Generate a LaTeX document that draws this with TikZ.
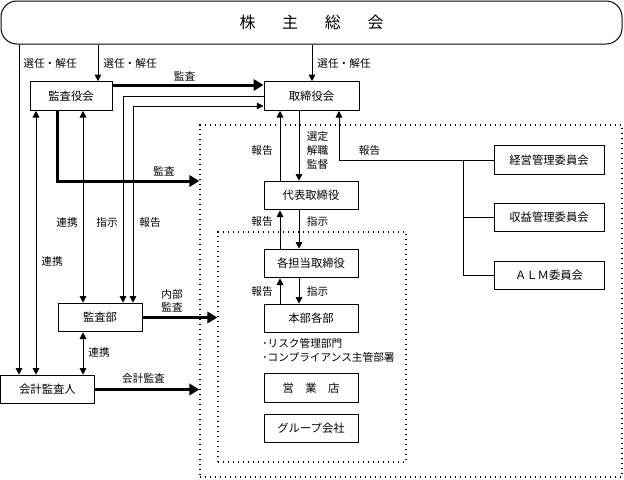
\documentclass[tikz,border=0pt]{standalone}
\usepackage{fontspec}
\setmainfont{Noto Sans CJK JP}
\usetikzlibrary{arrows.meta}

\tikzset{
  orgbox/.style={draw, line width=0.75pt, inner sep=0pt, minimum height=21.5pt,
    font=\fontsize{8.5}{10}\selectfont},
  lbl/.style={inner sep=0pt, font=\fontsize{8}{10}\selectfont},
  arr/.style={line width=0.75pt, -{Triangle[length=5pt,width=5pt]}},
  darr/.style={line width=0.75pt, {Triangle[length=5pt,width=5pt]}-{Triangle[length=5pt,width=5pt]}},
  bigarr/.style={line width=2.25pt, -{Triangle[length=7.5pt,width=8.5pt]}},
  dotbox/.style={draw, line width=1pt, dash pattern=on 1pt off 2.75pt, inner sep=0pt},
}

\begin{document}
\begin{tikzpicture}[x=0.75pt,y=0.75pt,yscale=-1]
\useasboundingbox (0,0) rectangle (624,479);

%Shape: Rounded Rect
\node [draw, line width=0.75pt, rounded corners=12pt, minimum width=465.75pt, minimum height=32.25pt, inner sep=0pt,
  font=\fontsize{12}{14}\selectfont] (soukai) at (311.5,22.5) {株\hspace{20pt}主\hspace{20pt}総\hspace{20pt}会};

%Shape: Dotted Rect
\node [dotbox, minimum width=316.5pt, minimum height=264pt] (outer) at (411,301) {};
\node [dotbox, minimum width=141pt, minimum height=172.5pt] (inner) at (312,347) {};

%Shape: Rectangle
\node [orgbox, minimum width=61.5pt] (kansayaku) at (71,96) {監査役会};
\node [orgbox, minimum width=71.25pt] (torishimari) at (311.5,96) {取締役会};
\node [orgbox, minimum width=70.5pt] (daihyo) at (311,195.5) {代表取締役};
\node [orgbox, minimum width=70.5pt] (tanto) at (311,263.5) {各担当取締役};
\node [orgbox, minimum width=70.5pt] (honbu) at (311,318.5) {本部各部};
\node [orgbox, minimum width=70.5pt] (eigyo) at (311,388) {営　業　店};
\node [orgbox, minimum width=70.5pt] (group) at (311,428.5) {グループ会社};
\node [orgbox, minimum width=82.5pt] (keiei) at (549,160) {経営管理委員会};
\node [orgbox, minimum width=82.5pt] (shueki) at (549,217.5) {収益管理委員会};
\node [orgbox, minimum width=82.5pt] (alm) at (549,275.5) {ＡＬＭ委員会};
\node [orgbox, minimum width=63pt] (kansabu) at (100,317.5) {監査部};
\node [orgbox, minimum width=70.5pt] (kaikei) at (47.5,389.5) {会計監査人};

\coordinate (junc) at (463,160);

%Straight Lines
\draw [arr] (soukai.south -| 19,0) -- (kaikei.north -| 19,0);
\draw [arr] (soukai.south -| 98,0) -- (kansayaku.north -| 98,0);
\draw [arr] (soukai.south -| 312,0) -- (torishimari.north -| 312,0);

\draw [bigarr] (kansayaku.east |- 0,85) -- (torishimari.west |- 0,85);
\draw [bigarr] (kansayaku.south -| 57,0) |- (outer.west |- 0,181);
\draw [bigarr] (kansabu.east) -- (inner.west |- kansabu.east);
\draw [bigarr] (kaikei.east) -- (outer.west |- kaikei.east);

\draw [arr] (torishimari.west |- 0,96) -| (kansabu.north -| 123,0);
\draw [darr] (kansabu.north -| 133,0) |- (torishimari.west |- 0,106);
\draw [darr] (kansayaku.south -| 36,0) -- (kaikei.north -| 36,0);
\draw [darr] (kansayaku.south -| 83,0) -- (kansabu.north -| 83,0);
\draw [darr] (kansabu.south -| 83,0) -- (kaikei.north -| 83,0);

\draw [arr] (daihyo.north -| 280,0) -- (torishimari.south -| 280,0);
\draw [arr] (torishimari.south -| 299,0) -- (daihyo.north -| 299,0);
\draw [arr] (tanto.north -| 280,0) -- (daihyo.south -| 280,0);
\draw [arr] (daihyo.south -| 299,0) -- (tanto.north -| 299,0);
\draw [arr] (honbu.north -| 280,0) -- (tanto.south -| 280,0);
\draw [arr] (tanto.south -| 299,0) -- (honbu.north -| 299,0);

\draw [arr] (keiei.west) -| (torishimari.south -| 339,0);
\draw [line width=0.75pt] (junc) |- (shueki.west);
\draw [line width=0.75pt] (junc) |- (alm.west);

% Text Node
\node [lbl] (l1) at (50,63) {選任・解任};
\node [lbl] (l2) at (130,63) {選任・解任};
\node [lbl] (l3) at (344,63) {選任・解任};
\node [lbl] (l4) at (184.5,76) {監査};
\node [lbl] (l5) at (164,171) {監査};
\node [lbl] (l6) at (67,222) {連携};
\node [lbl] (l7) at (107,222) {指示};
\node [lbl] (l8) at (150,222) {報告};
\node [lbl] (l9) at (52,261) {連携};
\node [lbl, align=center] (l10) at (172,301) {内部\\監査};
\node [lbl] (l11) at (99,352) {連携};
\node [lbl] (l12) at (143.5,378) {会計監査};
\node [lbl] (l13) at (262,150) {報告};
\node [lbl, align=center, font=\fontsize{8}{10.5}\selectfont] (l14) at (317.5,150) {選定\\解職\\監督};
\node [lbl] (l15) at (262,221) {報告};
\node [lbl] (l16) at (317.5,221) {指示};
\node [lbl] (l17) at (262,291) {報告};
\node [lbl] (l18) at (317.5,291) {指示};
\node [lbl] (l19) at (369.5,150) {報告};
\node [lbl, anchor=west] (l20) at (262,343) {･リスク管理部門};
\node [lbl, anchor=west] (l21) at (262,357) {･コンプライアンス主管部署};

\end{tikzpicture}
\end{document}
